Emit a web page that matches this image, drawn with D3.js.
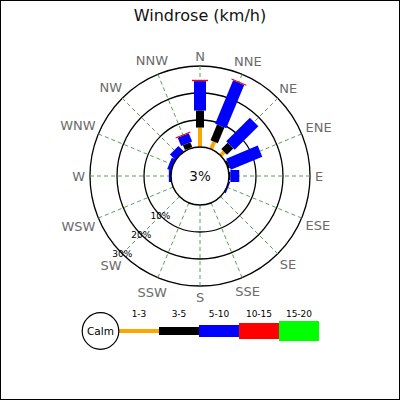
<!DOCTYPE html>
<html><head><meta charset="utf-8">
<script src="https://cdn.jsdelivr.net/npm/d3@7"></script>
<style>html,body{margin:0;padding:0;background:#fff;}svg{display:block;font-family:"DejaVu Sans",sans-serif;}</style>
</head><body>
<script>
const directions = ['N','NNE','NE','ENE','E','ESE','SE','SSE','S','SSW','SW','WSW','W','WNW','NW','NNW'];
const rangeLabels = ['1-3','3-5','5-10','10-15','15-20'];
const range1to3   = [7.2,3.0,1.9,0,0,0,0,0,0,0,0,0,0,0,0,0.3];
const range3to5   = [6.3,6.3,3.3,0.7,0.5,0,0,0,0,0,0,0,0,0,0,1.9];
const range5to10  = [10.9,17.4,12.4,12.6,3.3,0.5,0,0,0,0,0,0,0.8,1.5,2.8,3.3];
const range10to15 = [0.5,0.4,0,0,0,0,0,0,0,0,0,0,0,0,0,0.4];
const range15to20 = [0,0,0,0,0,0,0,0,0,0,0,0,0,0,0,0];
const calmPct = 3;
const ringTicks = [10,20,30];
const titleText = 'Windrose (km/h)';

const series = [range1to3, range3to5, range5to10, range10to15, range15to20];
const colors = ['#ffa500','#000000','#0000ff','#ff0000','#00ff00'];
const legW = [4,8,12,16,20];

const W = 400, H = 400, cx = 200, cy = 176, calmR = 29;
const r = d3.scaleLinear().domain([0,30]).range([calmR,110]);

const svg = d3.select('body').append('svg').attr('width',W).attr('height',H);
svg.append('rect').attr('x',0.5).attr('y',0.5).attr('width',W-1).attr('height',H-1)
  .attr('fill','#fff').attr('stroke','#000').attr('stroke-width',1);

svg.append('text').attr('x',200).attr('y',20.5).attr('text-anchor','middle')
  .attr('font-size',16).attr('fill','#111').text(titleText);

const g = svg.append('g').attr('transform',`translate(${cx},${cy})`);
const ang = i => i*22.5;

// rings
g.selectAll('circle.ring').data(ringTicks).enter().append('circle')
  .attr('r', d => r(d)).attr('fill','none').attr('stroke','#000').attr('stroke-width',1.3);

// radial dashed grid
g.selectAll('line.grid').data(directions).enter().append('line')
  .attr('x1', (d,i) => Math.sin(ang(i)*Math.PI/180)*calmR)
  .attr('y1', (d,i) => -Math.cos(ang(i)*Math.PI/180)*calmR)
  .attr('x2', (d,i) => Math.sin(ang(i)*Math.PI/180)*r(30))
  .attr('y2', (d,i) => -Math.cos(ang(i)*Math.PI/180)*r(30))
  .attr('stroke','#5a9e5a').attr('stroke-width',1).attr('stroke-dasharray','4,3');

// legs
directions.forEach((d,i) => {
  let cum = 0;
  const lg = g.append('g').attr('transform',`rotate(${ang(i)})`);
  series.forEach((s,k) => {
    const v = s[i];
    if (v > 0) {
      const r0 = r(cum), r1 = r(cum+v);
      lg.append('rect').attr('x',-legW[k]/2).attr('y',-r1)
        .attr('width',legW[k]).attr('height',r1-r0).attr('fill',colors[k]);
    }
    cum += v;
  });
});

// calm circle
g.append('circle').attr('r',calmR).attr('fill','#fff').attr('stroke','#000').attr('stroke-width',1.5);
g.append('text').attr('x',0).attr('y',5).attr('text-anchor','middle')
  .attr('font-size',13.5).attr('fill','#111').text(calmPct+'%');

// range labels at 225 deg
const la = 225*Math.PI/180;
g.selectAll('text.rl').data(ringTicks).enter().append('text')
  .attr('x', d => Math.sin(la)*r(d)).attr('y', d => -Math.cos(la)*r(d)+3.3)
  .attr('text-anchor','middle').attr('font-size',9).attr('fill','#000').text(d => d+'%');

// compass labels
directions.forEach((d,i) => {
  const a = ang(i)*Math.PI/180;
  const t = g.append('text').attr('font-size',13).attr('fill','#6b6b6b').attr('text-anchor','middle').text(d);
  const w = t.node().getComputedTextLength();
  const rr = 115.5 + (w/2)*Math.abs(Math.sin(a))*0.9 + 5*Math.abs(Math.cos(a));
  t.attr('x', Math.sin(a)*rr).attr('y', -Math.cos(a)*rr + 5);
});

// legend
const lx0 = 119, segL = 40, ly = 331;
const lgd = svg.append('g');
const lxs = d3.scaleBand().domain(rangeLabels).range([lx0, lx0+segL*rangeLabels.length]).padding(0);
rangeLabels.forEach((lab,k) => {
  lgd.append('rect').attr('x',lxs(lab)).attr('y',ly-legW[k]/2).attr('width',lxs.bandwidth())
    .attr('height',legW[k]).attr('fill',colors[k]);
  lgd.append('text').attr('x',lxs(lab)+lxs.bandwidth()/2).attr('y',317.3).attr('text-anchor','middle')
    .attr('font-size',9).attr('fill','#000').text(lab);
});
lgd.append('circle').attr('cx',100.5).attr('cy',ly).attr('r',18.3).attr('fill','#fff').attr('stroke','#000').attr('stroke-width',1.2);
lgd.append('text').attr('x',100.5).attr('y',ly+3.8).attr('text-anchor','middle').attr('font-size',10.5).attr('fill','#000').text('Calm');
</script>
</body></html>
